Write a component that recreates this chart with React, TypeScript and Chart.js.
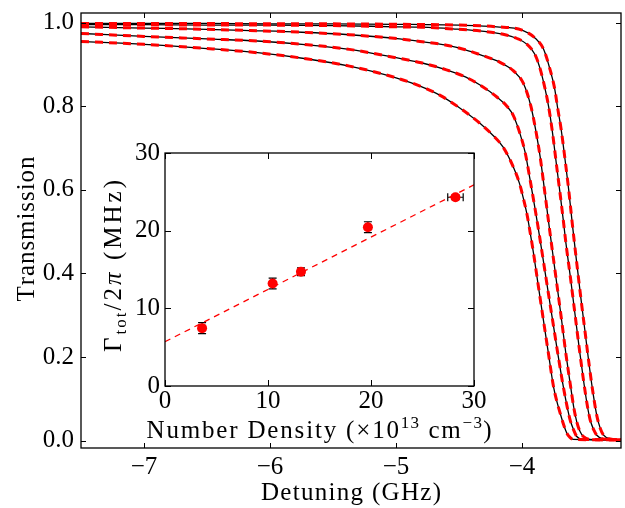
import React, { useEffect, useRef } from "react";
import { Chart, registerables } from "chart.js";
Chart.register(...registerables);

const FONT_FAMILY = "'Liberation Serif', 'DejaVu Serif', serif";

// ---------------- main panel: transmission curves ----------------
const detuning1 = [-7.5, -7.0, -6.5, -6.0, -5.5, -5.0, -4.5, -4.2, -4.0, -3.9, -3.83, -3.78, -3.74, -3.72, -3.69, -3.66, -3.63, -3.6, -3.57, -3.535, -3.5, -3.465, -3.435, -3.407, -3.38, -3.355, -3.3, -3.215];
const transmission1 = [0.998, 0.998, 0.998, 0.997, 0.997, 0.996, 0.994, 0.99, 0.982, 0.964, 0.937, 0.89, 0.84, 0.8, 0.745, 0.675, 0.6, 0.515, 0.435, 0.345, 0.26, 0.175, 0.11, 0.06, 0.03, 0.014, 0.004, 0.002];

const detuning2 = [-7.5, -7.0, -6.5, -6.0, -5.5, -5.0, -4.8, -4.55, -4.3, -4.15, -4.04, -3.96, -3.9, -3.86, -3.82, -3.79, -3.76, -3.725, -3.7, -3.672, -3.651, -3.614, -3.579, -3.545, -3.508, -3.48, -3.46, -3.43, -3.407, -3.355, -3.215];
const transmission2 = [0.995, 0.995, 0.994, 0.994, 0.993, 0.99, 0.989, 0.985, 0.979, 0.972, 0.962, 0.948, 0.925, 0.893, 0.845, 0.8, 0.74, 0.655, 0.595, 0.525, 0.47, 0.385, 0.3, 0.218, 0.135, 0.08, 0.05, 0.025, 0.013, 0.004, 0.002];

const detuning3 = [-7.5, -7.0, -6.5, -6.16, -5.75, -5.37, -4.97, -4.81, -4.6, -4.45, -4.33, -4.175, -4.07, -3.99, -3.93, -3.89, -3.857, -3.82, -3.786, -3.751, -3.72, -3.685, -3.651, -3.614, -3.59, -3.566, -3.54, -3.513, -3.46, -3.215];
const transmission3 = [0.99, 0.987, 0.984, 0.981, 0.977, 0.971, 0.961, 0.955, 0.946, 0.935, 0.923, 0.905, 0.885, 0.855, 0.8, 0.74, 0.68, 0.595, 0.515, 0.435, 0.365, 0.285, 0.205, 0.128, 0.08, 0.045, 0.022, 0.01, 0.003, 0.002];

const detuning4 = [-7.5, -7.0, -6.5, -6.1, -5.7, -5.37, -5.0, -4.8, -4.6, -4.45, -4.33, -4.2, -4.12, -4.07, -4.016, -3.976, -3.937, -3.897, -3.862, -3.831, -3.791, -3.751, -3.712, -3.672, -3.645, -3.619, -3.59, -3.566, -3.513, -3.215];
const transmission4 = [0.974, 0.967, 0.961, 0.956, 0.947, 0.936, 0.916, 0.904, 0.887, 0.87, 0.85, 0.822, 0.8, 0.778, 0.734, 0.69, 0.625, 0.555, 0.49, 0.43, 0.352, 0.275, 0.2, 0.128, 0.085, 0.05, 0.025, 0.01, 0.003, 0.002];

const detuning5 = [-7.5, -7.0, -6.5, -6.1, -5.7, -5.37, -5.0, -4.8, -4.65, -4.5, -4.33, -4.23, -4.15, -4.07, -4.02, -3.99, -3.96, -3.937, -3.91, -3.87, -3.831, -3.791, -3.751, -3.725, -3.698, -3.67, -3.645, -3.62, -3.593, -3.215];
const transmission5 = [0.955, 0.948, 0.938, 0.928, 0.913, 0.896, 0.868, 0.847, 0.826, 0.797, 0.758, 0.73, 0.702, 0.655, 0.615, 0.58, 0.54, 0.5, 0.45, 0.368, 0.289, 0.209, 0.13, 0.095, 0.066, 0.038, 0.018, 0.008, 0.003, 0.002];

const mainXTicks = [-7, -6, -5, -4];
const mainYTicks = [0, 0.2, 0.4, 0.6, 0.8, 1.0];

// ---------------- inset: linewidth vs density ----------------
const numberDensity = [3.6, 10.45, 13.2, 19.7, 28.2];
const densityError = [0, 0, 0, 0, 0.75];
const gammaTot = [7.45, 13.2, 14.7, 20.45, 24.3];
const gammaError = [0.7, 0.7, 0.5, 0.7, 0.3];
const fitDensity = [0, 30];
const fitGamma = [5.7, 25.9];
const insetTicks = [0, 10, 20, 30];

type Seg = { text: string; size: number; dy?: number; italic?: boolean };

function drawRichText(
  ctx: CanvasRenderingContext2D,
  segs: Seg[],
  center: number,
  baseline: number,
  targetWidth: number,
  vertical: boolean
) {
  ctx.save();
  ctx.fillStyle = "#000";
  ctx.textBaseline = "alphabetic";
  ctx.textAlign = "left";
  const ref = 25;
  const fontOf = (s: Seg) => `${s.italic ? "italic " : ""}${s.size}px ${FONT_FAMILY}`;
  let natural = 0;
  let weights = 0;
  const chars: { ch: string; seg: Seg; w: number }[] = [];
  for (const s of segs) {
    ctx.font = fontOf(s);
    for (const ch of s.text) {
      const w = ctx.measureText(ch).width;
      natural += w;
      chars.push({ ch, seg: s, w });
    }
  }
  for (let i = 0; i < chars.length - 1; i++) weights += chars[i].seg.size / ref;
  const unit = weights > 0 ? Math.max(0, (targetWidth - natural) / weights) : 0;
  const total = natural + unit * weights;
  if (vertical) {
    ctx.translate(baseline, center);
    ctx.rotate(-Math.PI / 2);
  } else {
    ctx.translate(center, baseline);
  }
  let x = -total / 2;
  chars.forEach((c, i) => {
    ctx.font = fontOf(c.seg);
    ctx.fillText(c.ch, x, c.seg.dy || 0);
    x += c.w + (i < chars.length - 1 ? unit * (c.seg.size / ref) : 0);
  });
  ctx.restore();
}

function framePlugin(id: string, xTicks: number[], yTicks: number[], len: number) {
  return {
    id,
    afterDraw(chart: any) {
      const { ctx, chartArea: a, scales } = chart;
      ctx.save();
      ctx.strokeStyle = "#000";
      ctx.lineWidth = 1;
      ctx.beginPath();
      for (const v of xTicks) {
        const px = Math.round(scales.x.getPixelForValue(v)) + 0.5;
        ctx.moveTo(px, a.bottom);
        ctx.lineTo(px, a.bottom - len);
        ctx.moveTo(px, a.top);
        ctx.lineTo(px, a.top + len);
      }
      for (const v of yTicks) {
        const py = Math.round(scales.y.getPixelForValue(v)) + 0.5;
        ctx.moveTo(a.left, py);
        ctx.lineTo(a.left + len, py);
        ctx.moveTo(a.right, py);
        ctx.lineTo(a.right - len, py);
      }
      ctx.stroke();
      ctx.lineWidth = 1.3;
      ctx.strokeRect(a.left, a.top, a.right - a.left, a.bottom - a.top);
      ctx.restore();
    },
  };
}

const tickFont = { family: FONT_FAMILY, size: 25 };
const minusFmt = (v: number) => (v < 0 ? "\u2212" + Math.abs(v) : String(v));

export default function App() {
  const mainRef = useRef<HTMLCanvasElement>(null);
  const insetRef = useRef<HTMLCanvasElement>(null);

  useEffect(() => {
    if (!mainRef.current || !insetRef.current) return;
    const curves: [number[], number[]][] = [
      [detuning1, transmission1],
      [detuning2, transmission2],
      [detuning3, transmission3],
      [detuning4, transmission4],
      [detuning5, transmission5],
    ];
    const datasets: any[] = [];
    curves.forEach(([xs, ys]) => {
      datasets.push({
        data: xs.map((x, i) => ({ x, y: ys[i] })),
        borderColor: "#000000",
        borderWidth: 1.3,
        showLine: true,
        pointRadius: 0,
        cubicInterpolationMode: "monotone",
        fill: false,
        order: 1,
      });
    });
    curves.forEach(([xs, ys]) => {
      datasets.push({
        data: xs.map((x, i) => ({ x, y: ys[i] })),
        borderColor: "#ff0000",
        borderWidth: 3,
        borderDash: [8, 6],
        showLine: true,
        pointRadius: 0,
        cubicInterpolationMode: "monotone",
        fill: false,
        order: 0,
      });
    });

    const mainTitles = {
      id: "mainTitles",
      afterDraw(chart: any) {
        const ctx = chart.ctx;
        drawRichText(ctx, [{ text: "Detuning (GHz)", size: 25 }], 351, 500, 180, false);
        drawRichText(ctx, [{ text: "Transmission", size: 25 }], 229, 34, 145, true);
      },
    };

    const main = new Chart(mainRef.current, {
      type: "scatter",
      data: { datasets },
      options: {
        responsive: false,
        animation: false,
        layout: { padding: { left: 0, top: 13, right: 4, bottom: 0 } },
        plugins: { legend: { display: false }, tooltip: { enabled: false } },
        scales: {
          x: {
            type: "linear",
            min: -7.5,
            max: -3.215,
            grid: { display: false, drawTicks: false },
            border: { display: false },
            afterBuildTicks: (s: any) => {
              s.ticks = mainXTicks.map((v) => ({ value: v }));
            },
            afterFit: (s: any) => {
              s.height = 60;
              s.paddingLeft = 0;
              s.paddingRight = 0;
              s.paddingTop = 0;
              s.paddingBottom = 0;
            },
            ticks: {
              padding: 4,
              color: "#000",
              font: tickFont,
              maxRotation: 0,
              autoSkip: false,
              callback: (v: any) => minusFmt(Number(v)),
            },
          },
          y: {
            type: "linear",
            min: -0.0175,
            max: 1.023,
            grid: { display: false, drawTicks: false },
            border: { display: false },
            afterBuildTicks: (s: any) => {
              s.ticks = mainYTicks.map((v) => ({ value: v }));
            },
            afterFit: (s: any) => {
              s.width = 81;
              s.paddingLeft = 0;
              s.paddingRight = 0;
              s.paddingTop = 0;
              s.paddingBottom = 0;
            },
            ticks: {
              padding: 7,
              color: "#000",
              font: tickFont,
              autoSkip: false,
              callback: (v: any) => Number(v).toFixed(1),
            },
          },
        },
      },
      plugins: [framePlugin("mainFrame", mainXTicks, mainYTicks, 5), mainTitles],
    } as any);

    const insetBg = {
      id: "insetBg",
      beforeDraw(chart: any) {
        const { ctx, chartArea: a } = chart;
        ctx.save();
        ctx.fillStyle = "#ffffff";
        ctx.fillRect(a.left, a.top, a.right - a.left, a.bottom - a.top);
        ctx.restore();
      },
    };

    const errorBars = {
      id: "errorBars",
      beforeDatasetsDraw(chart: any) {
        const { ctx, scales } = chart;
        const xs = scales.x;
        const ys = scales.y;
        ctx.save();
        ctx.strokeStyle = "#000";
        ctx.lineWidth = 1.2;
        ctx.beginPath();
        numberDensity.forEach((d, i) => {
          const px = xs.getPixelForValue(d);
          const py = ys.getPixelForValue(gammaTot[i]);
          const cap = 4;
          if (gammaError[i] > 0) {
            const y1 = ys.getPixelForValue(gammaTot[i] - gammaError[i]);
            const y2 = ys.getPixelForValue(gammaTot[i] + gammaError[i]);
            ctx.moveTo(px, y1);
            ctx.lineTo(px, y2);
            ctx.moveTo(px - cap, y1);
            ctx.lineTo(px + cap, y1);
            ctx.moveTo(px - cap, y2);
            ctx.lineTo(px + cap, y2);
          }
          if (densityError[i] > 0) {
            const x1 = xs.getPixelForValue(d - densityError[i]);
            const x2 = xs.getPixelForValue(d + densityError[i]);
            ctx.moveTo(x1, py);
            ctx.lineTo(x2, py);
            ctx.moveTo(x1, py - cap);
            ctx.lineTo(x1, py + cap);
            ctx.moveTo(x2, py - cap);
            ctx.lineTo(x2, py + cap);
          }
        });
        ctx.stroke();
        ctx.restore();
      },
    };

    const insetTitles = {
      id: "insetTitles",
      afterDraw(chart: any) {
        const ctx = chart.ctx;
        drawRichText(
          ctx,
          [
            { text: "Number Density (\u00d710", size: 25 },
            { text: "13", size: 17, dy: -10 },
            { text: " cm", size: 25 },
            { text: "\u22123", size: 17, dy: -10 },
            { text: ")", size: 25 },
          ],
          319,
          438,
          345,
          false
        );
        drawRichText(
          ctx,
          [
            { text: "\u0393", size: 25 },
            { text: "tot", size: 17, dy: 5 },
            { text: "/2", size: 25 },
            { text: "\u03c0", size: 25, italic: true },
            { text: " (MHz)", size: 25 },
          ],
          266,
          121,
          172,
          true
        );
      },
    };

    const inset = new Chart(insetRef.current, {
      type: "scatter",
      data: {
        datasets: [
          {
            data: numberDensity.map((x, i) => ({ x, y: gammaTot[i] })),
            backgroundColor: "#ff0000",
            borderColor: "#ff0000",
            borderWidth: 0,
            pointRadius: 5,
            showLine: false,
            order: 0,
          },
          {
            data: fitDensity.map((x, i) => ({ x, y: fitGamma[i] })),
            borderColor: "#ff0000",
            borderWidth: 1.3,
            borderDash: [6, 5],
            showLine: true,
            pointRadius: 0,
            fill: false,
            order: 1,
          },
        ],
      },
      options: {
        responsive: false,
        animation: false,
        layout: { padding: { left: 0, top: 153, right: 151, bottom: 0 } },
        plugins: { legend: { display: false }, tooltip: { enabled: false } },
        scales: {
          x: {
            type: "linear",
            min: 0,
            max: 30,
            grid: { display: false, drawTicks: false },
            border: { display: false },
            afterBuildTicks: (s: any) => {
              s.ticks = insetTicks.map((v) => ({ value: v }));
            },
            afterFit: (s: any) => {
              s.height = 122;
              s.paddingLeft = 0;
              s.paddingRight = 0;
              s.paddingTop = 0;
              s.paddingBottom = 0;
            },
            ticks: {
              padding: 0,
              color: "#000",
              font: tickFont,
              maxRotation: 0,
              autoSkip: false,
              callback: (v: any) => String(v),
            },
          },
          y: {
            type: "linear",
            min: 0,
            max: 30,
            grid: { display: false, drawTicks: false },
            border: { display: false },
            afterBuildTicks: (s: any) => {
              s.ticks = insetTicks.map((v) => ({ value: v }));
            },
            afterFit: (s: any) => {
              s.width = 165;
              s.paddingLeft = 0;
              s.paddingRight = 0;
              s.paddingTop = 0;
              s.paddingBottom = 0;
            },
            ticks: {
              padding: 5,
              color: "#000",
              font: tickFont,
              autoSkip: false,
              callback: (v: any) => String(v),
            },
          },
        },
      },
      plugins: [insetBg, errorBars, framePlugin("insetFrame", insetTicks, insetTicks, 6), insetTitles],
    } as any);

    return () => {
      main.destroy();
      inset.destroy();
    };
  }, []);

  return (
    <div style={{ position: "absolute", left: 0, top: 0, width: 625, height: 508, background: "#ffffff" }}>
      <canvas ref={mainRef} width={625} height={508} style={{ position: "absolute", left: 0, top: 0 }} />
      <canvas ref={insetRef} width={625} height={508} style={{ position: "absolute", left: 0, top: 0 }} />
    </div>
  );
}
